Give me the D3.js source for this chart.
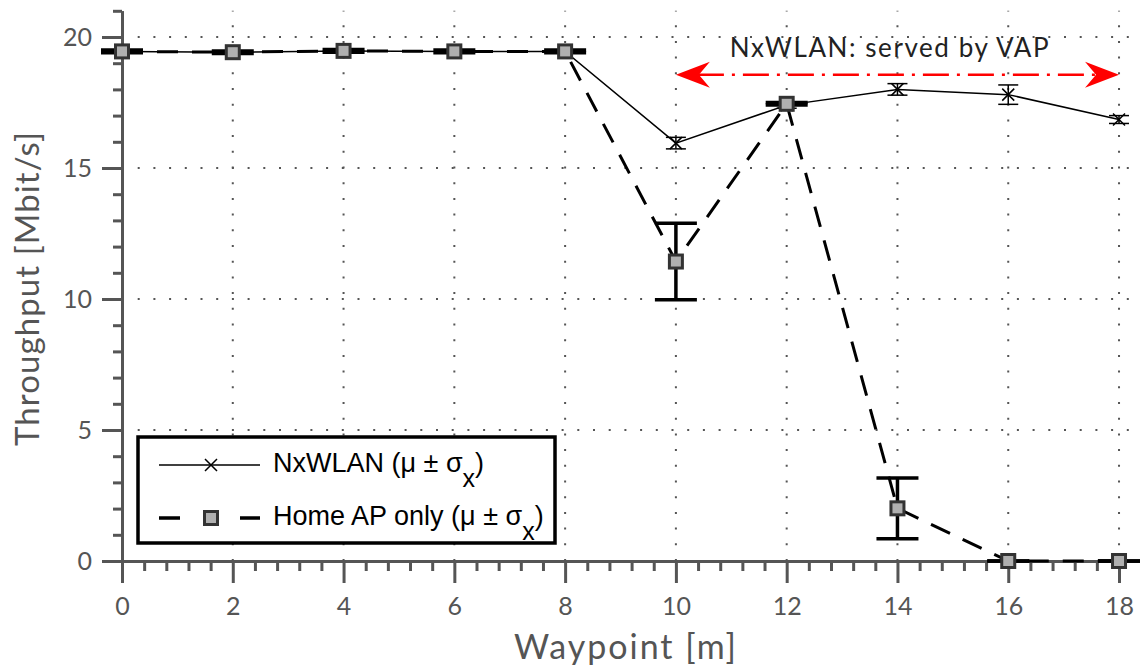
<!DOCTYPE html>
<html>
<head>
<meta charset="utf-8">
<script src="https://cdn.jsdelivr.net/npm/d3@7"></script>
<style>
  body { margin: 0; background: #fff; }
  svg { display: block; }
</style>
</head>
<body>
<script>
// data
var waypoints = [0, 2, 4, 6, 8, 10, 12, 14, 16, 18];
var nxMean = [19.45, 19.42, 19.47, 19.45, 19.45, 15.95, 17.4, 18.0, 17.8, 16.85];
var nxStd = [0.05, 0.05, 0.05, 0.05, 0.05, 0.22, 0.12, 0.22, 0.37, 0.15];
var homeMean = [19.45, 19.42, 19.47, 19.45, 19.45, 11.43, 17.45, 2.01, 0, 0];
var homeStd = [0.05, 0.05, 0.05, 0.05, 0.05, 1.46, 0.05, 1.16, 0, 0];
var xTicks = [0, 2, 4, 6, 8, 10, 12, 14, 16, 18];
var yTicks = [0, 5, 10, 15, 20];
var vapSpan = [10, 18];
var vapLevel = 18.56;
var vapNote = 'NxWLAN: served by VAP';

var W = 1140, H = 668;
var axisColor = '#555';
var tickFont = 'Lato, "Open Sans", sans-serif';

var svg = d3.select('body').append('svg')
    .attr('width', W)
    .attr('height', H);

var x = d3.scaleLinear().domain([0, 18.4]).range([122, 122 + 18.4 * 55.39]);
var y = d3.scaleLinear().domain([0, 21]).range([561, 561 - 21 * 26.2]);

// dotted grid
var grid = svg.append('g')
    .attr('stroke', axisColor)
    .attr('stroke-width', 2)
    .attr('stroke-dasharray', '2,13.7');
grid.selectAll('line.vx')
    .data(xTicks.filter(function(d){ return d > 0; }))
    .enter().append('line')
    .attr('class', 'vx')
    .attr('x1', function(d){ return x(d); })
    .attr('x2', function(d){ return x(d); })
    .attr('y1', y(0))
    .attr('y2', y(21));
grid.selectAll('line.hy')
    .data(yTicks.filter(function(d){ return d > 0; }))
    .enter().append('line')
    .attr('class', 'hy')
    .attr('x1', x(0))
    .attr('x2', x(18.4))
    .attr('y1', function(d){ return y(d); })
    .attr('y2', function(d){ return y(d); });

// axes: minor ticks first, then major ticks
var xMinor = d3.range(0, 18.41, 0.4).filter(function(d){ return Math.abs(d / 2 - Math.round(d / 2)) > 0.01; });
var yMinor = d3.range(0, 21.01, 1).filter(function(d){ return d % 5 !== 0; });

var gxMinor = svg.append('g')
    .attr('transform', 'translate(0,' + y(0) + ')')
    .call(d3.axisBottom(x).tickValues(xMinor).tickSize(10).tickSizeOuter(0).tickFormat(''));
var gx = svg.append('g')
    .attr('transform', 'translate(0,' + y(0) + ')')
    .call(d3.axisBottom(x).tickValues(xTicks).tickSize(22).tickSizeOuter(0).tickPadding(14));
var gyMinor = svg.append('g')
    .attr('transform', 'translate(' + x(0) + ',0)')
    .call(d3.axisLeft(y).tickValues(yMinor).tickSize(9).tickSizeOuter(0).tickFormat(''));
var gy = svg.append('g')
    .attr('transform', 'translate(' + x(0) + ',0)')
    .call(d3.axisLeft(y).tickValues(yTicks).tickSize(20).tickSizeOuter(0).tickPadding(10));

[gxMinor, gx, gyMinor, gy].forEach(function(g) {
    g.select('.domain').attr('stroke', axisColor).attr('stroke-width', 3);
    g.selectAll('.tick line').attr('stroke', axisColor).attr('stroke-width', 3);
    g.selectAll('.tick text')
        .attr('fill', axisColor)
        .style('font-family', tickFont)
        .style('font-size', '25px');
});

svg.append('text')
    .attr('x', 625)
    .attr('y', 659)
    .attr('text-anchor', 'middle')
    .attr('fill', axisColor)
    .attr('textLength', 222)
    .attr('lengthAdjust', 'spacing')
    .style('font-family', tickFont)
    .style('font-size', '34px')
    .text('Waypoint [m]');
svg.append('text')
    .attr('transform', 'translate(39,289) rotate(-90)')
    .attr('text-anchor', 'middle')
    .attr('fill', axisColor)
    .attr('textLength', 314)
    .attr('lengthAdjust', 'spacing')
    .style('font-family', tickFont)
    .style('font-size', '33px')
    .text('Throughput [Mbit/s]');

// series lines
var nxData = waypoints.map(function(w, i){ return {x: w, m: nxMean[i], s: nxStd[i]}; });
var homeData = waypoints.map(function(w, i){ return {x: w, m: homeMean[i], s: homeStd[i]}; });
var line = d3.line()
    .x(function(d){ return x(d.x); })
    .y(function(d){ return y(d.m); });

svg.append('path')
    .datum(nxData)
    .attr('d', line)
    .attr('fill', 'none')
    .attr('stroke', '#000')
    .attr('stroke-width', 1.5);
svg.append('path')
    .datum(homeData)
    .attr('d', line)
    .attr('fill', 'none')
    .attr('stroke', '#000')
    .attr('stroke-width', 3)
    .attr('stroke-dasharray', '21,14');

// error bars
function errorBars(data, cap, width) {
    var g = svg.append('g')
        .attr('stroke', '#000')
        .attr('stroke-width', width);
    var bar = g.selectAll('g')
        .data(data)
        .enter().append('g');
    bar.append('line')
        .attr('x1', function(d){ return x(d.x); })
        .attr('x2', function(d){ return x(d.x); })
        .attr('y1', function(d){ return y(d.m - d.s); })
        .attr('y2', function(d){ return y(d.m + d.s); });
    bar.append('line')
        .attr('x1', function(d){ return x(d.x) - cap / 2; })
        .attr('x2', function(d){ return x(d.x) + cap / 2; })
        .attr('y1', function(d){ return y(d.m - d.s); })
        .attr('y2', function(d){ return y(d.m - d.s); });
    bar.append('line')
        .attr('x1', function(d){ return x(d.x) - cap / 2; })
        .attr('x2', function(d){ return x(d.x) + cap / 2; })
        .attr('y1', function(d){ return y(d.m + d.s); })
        .attr('y2', function(d){ return y(d.m + d.s); });
}
errorBars(nxData, 20, 1.5);
errorBars(homeData, 42, 3.5);

// markers
function cross(sel, size) {
    var h = size / 2;
    sel.append('path')
        .attr('d', 'M' + -h + ',' + -h + 'L' + h + ',' + h + 'M' + -h + ',' + h + 'L' + h + ',' + -h)
        .attr('stroke', '#000')
        .attr('stroke-width', 1.5)
        .attr('fill', 'none');
}
function square(sel, size) {
    sel.append('rect')
        .attr('x', -size / 2)
        .attr('y', -size / 2)
        .attr('width', size)
        .attr('height', size)
        .attr('fill', '#b0b0b0')
        .attr('stroke', '#333')
        .attr('stroke-width', 3);
}
svg.selectAll('g.nx')
    .data(nxData)
    .enter().append('g')
    .attr('class', 'nx')
    .attr('transform', function(d){ return 'translate(' + x(d.x) + ',' + y(d.m) + ')'; })
    .call(cross, 12);
svg.selectAll('g.home')
    .data(homeData)
    .enter().append('g')
    .attr('class', 'home')
    .attr('transform', function(d){ return 'translate(' + x(d.x) + ',' + y(d.m) + ')'; })
    .call(square, 13);

// VAP annotation
var ax1 = x(vapSpan[0]), ax2 = x(vapSpan[1]), ay = y(vapLevel);
svg.append('line')
    .attr('x1', ax1 + 22)
    .attr('x2', ax2 - 22)
    .attr('y1', ay)
    .attr('y2', ay)
    .attr('stroke', '#ff0000')
    .attr('stroke-width', 2.5)
    .attr('stroke-dasharray', '26,8,3,8');
function stealth(tx, dir) {
    var L = 34, hw = 13, n = 23;
    var p = [[tx, ay], [tx + dir * L, ay - hw], [tx + dir * n, ay], [tx + dir * L, ay + hw]];
    svg.append('path')
        .attr('d', 'M' + p.map(function(q){ return q.join(','); }).join('L') + 'Z')
        .attr('fill', '#ff0000');
}
stealth(ax1, 1);
stealth(ax2, -1);
svg.append('text')
    .attr('x', x(13.85))
    .attr('y', y(19.24))
    .attr('text-anchor', 'middle')
    .attr('fill', '#222')
    .attr('textLength', 319)
    .attr('lengthAdjust', 'spacing')
    .style('font-family', tickFont)
    .style('font-size', '26px')
    .text(vapNote);

// legend
var leg = svg.append('g');
leg.append('rect')
    .attr('x', 138)
    .attr('y', 437)
    .attr('width', 417)
    .attr('height', 106)
    .attr('fill', '#fff')
    .attr('stroke', '#000')
    .attr('stroke-width', 3.5);
var legFont = '"Liberation Sans", Arial, sans-serif';
var rows = [
    {label: 'NxWLAN', y: 465, dash: null, lw: 1.5, mark: cross, size: 12},
    {label: 'Home AP only', y: 518, dash: '21,60', lw: 3.5, mark: square, size: 13}
];
rows.forEach(function(r) {
    leg.append('line')
        .attr('x1', 159)
        .attr('x2', 260)
        .attr('y1', r.y)
        .attr('y2', r.y)
        .attr('stroke', '#000')
        .attr('stroke-width', r.lw)
        .attr('stroke-dasharray', r.dash);
    leg.append('g')
        .attr('transform', 'translate(211,' + r.y + ')')
        .call(r.mark, r.size);
    var t = leg.append('text')
        .attr('x', 273)
        .attr('y', r.y + 7)
        .attr('fill', '#000')
        .style('font-family', legFont)
        .style('font-size', '27px');
    t.append('tspan').text(r.label + ' (\u03bc \u00b1 \u03c3');
    t.append('tspan').attr('dy', 15).style('font-size', '25px').text('x');
    t.append('tspan').attr('dy', -15).text(')');
});
</script>
</body>
</html>
